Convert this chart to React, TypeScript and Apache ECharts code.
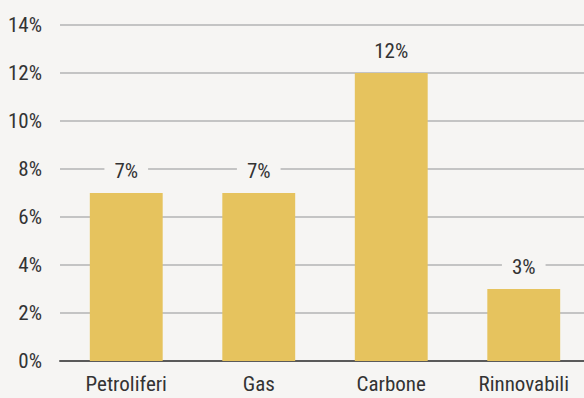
import React, { useEffect, useRef } from "react";
import * as echarts from "echarts";

const categories = ["Petroliferi", "Gas", "Carbone", "Rinnovabili"];
const values = [7, 7, 12, 3];
const yTicks = [0, 2, 4, 6, 8, 10, 12, 14];

const BG = "#f6f5f3";
const FONT = "'Roboto Condensed', 'Liberation Sans Narrow', sans-serif";
const TEXT = "#333333";

export default function App() {
  const ref = useRef<HTMLDivElement>(null);
  useEffect(() => {
    document.body.style.margin = "0";
    document.body.style.background = BG;
    const chart = echarts.init(ref.current!, null, { renderer: "svg" });
    chart.setOption({
      animation: false,
      backgroundColor: BG,
      grid: { left: 60, right: 0, top: 25, bottom: 37, containLabel: false },
      xAxis: {
        type: "category",
        data: categories,
        axisLine: { show: true, lineStyle: { color: "#5a5a5a", width: 2 } },
        axisTick: { show: false },
        axisLabel: { color: TEXT, fontSize: 21, fontFamily: FONT, margin: 12 },
      },
      yAxis: {
        type: "value",
        min: yTicks[0],
        max: yTicks[yTicks.length - 1],
        interval: 2,
        axisLine: { show: false },
        axisTick: { show: false },
        axisLabel: {
          color: TEXT,
          fontSize: 21,
          fontFamily: FONT,
          margin: 18,
          formatter: (v: number) => `${v}%`,
        },
        splitLine: { lineStyle: { color: "#c4c4c4", width: 2 } },
      },
      series: [
        {
          type: "bar",
          data: values,
          barWidth: "55%",
          itemStyle: { color: "#e6c35e" },
          label: {
            show: true,
            position: "top",
            distance: 12,
            formatter: (p: any) => `${p.value}%`,
            color: TEXT,
            fontSize: 21,
            fontFamily: FONT,
            backgroundColor: BG,
            padding: [0, 10],
          },
        },
      ],
    });
    return () => chart.dispose();
  }, []);
  return (
    <div style={{ width: 584, height: 398, overflow: "hidden", position: "relative" }}>
      <div ref={ref} style={{ width: 590, height: 398 }} />
    </div>
  );
}
